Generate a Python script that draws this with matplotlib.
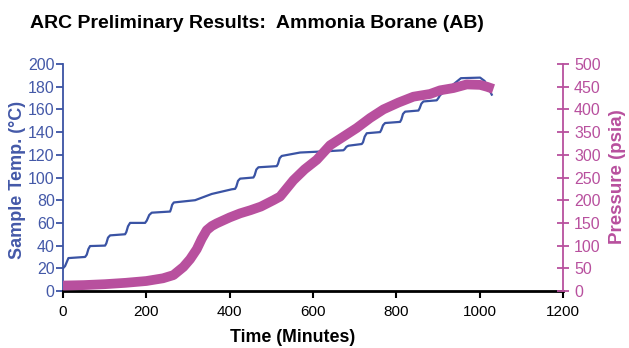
import matplotlib
matplotlib.use("Agg")
import matplotlib.pyplot as plt

plt.rcParams['font.family'] = ['Liberation Sans', 'DejaVu Sans']

# Sample temperature (°C) vs time (minutes)
temp_time = [0, 5, 13, 53, 57, 61, 65, 101, 104, 108, 113, 149, 152, 156, 161,
             197, 201, 207, 213, 257, 259, 262, 266, 317, 357, 405, 413, 416, 420,
             425, 457, 460, 464, 469, 513, 516, 520, 525, 569, 609, 641, 673, 676,
             680, 685, 717, 720, 724, 729, 761, 764, 768, 773, 809, 812, 816, 821,
             853, 856, 860, 865, 897, 901, 905, 930, 955, 1001, 1012, 1022, 1029]
temp_vals = [20, 22, 29, 30, 32, 37, 39.6, 40, 42, 47, 49, 50, 52, 57, 60,
             60, 62, 67, 69, 70, 72, 76, 78, 80, 85.5, 89.6, 90, 92, 97,
             99, 100, 102, 107, 109, 110, 112, 117, 119, 122, 122.7, 123.3, 124, 125,
             127, 128, 129.5, 131, 136, 139, 140, 142, 146, 148, 149, 151, 156, 158,
             159, 161, 165, 167, 168, 170, 172.5, 180, 187.5, 188, 185, 178, 173]

# Pressure (psia) vs time (minutes)
pres_time = [0, 50, 100, 150, 200, 240, 265, 289, 305, 321, 333, 345, 357, 369,
             400, 425, 450, 475, 505, 521, 537, 553, 580, 609, 641, 673, 705, 737,
             769, 805, 841, 881, 905, 937, 969, 1001, 1017, 1033]
pres_vals = [12, 13, 15, 18, 22, 28, 35, 53, 70, 92, 115, 134, 143, 149,
             162, 171, 178, 186, 200, 208, 226, 244, 268, 289, 321, 340, 359, 381,
             400, 415, 428, 434, 442, 447, 455, 454, 450, 445]

x_ticks = [0, 200, 400, 600, 800, 1000, 1200]
temp_ticks = [0, 20, 40, 60, 80, 100, 120, 140, 160, 180, 200]
pres_ticks = [0, 50, 100, 150, 200, 250, 300, 350, 400, 450, 500]

blue = '#3A53A4'
blue_txt = '#4459A8'
pink = '#B8509E'

fig = plt.figure(figsize=(6.29, 3.48), dpi=100)
ax = fig.add_axes([63/629, 1-291/348, 500/629, 227/348])
ax2 = ax.twinx()

ax.plot(temp_time, temp_vals, color=blue, lw=1.6, solid_joinstyle='round')
ax2.plot(pres_time, pres_vals, color=pink, lw=7, solid_capstyle='butt')

ax.set_xlim(0, 1200)
ax.set_ylim(0, 200)
ax2.set_ylim(0, 500)
ax.set_xticks(x_ticks)
ax.set_yticks(temp_ticks)
ax2.set_yticks(pres_ticks)

for a in (ax, ax2):
    a.spines['top'].set_visible(False)
ax.spines['right'].set_visible(False)
ax.spines['left'].set_color(blue)
ax.spines['left'].set_linewidth(1.3)
ax.spines['bottom'].set_color('black')
ax.spines['bottom'].set_linewidth(2.0)
ax2.spines['left'].set_visible(False)
ax2.spines['bottom'].set_visible(False)
ax2.spines['right'].set_color(pink)
ax2.spines['right'].set_linewidth(1.3)

ax.tick_params(axis='x', direction='out', length=5, width=1.5, color='black',
               labelsize=11, labelcolor='black', pad=5)
ax.tick_params(axis='y', direction='out', length=5, width=1.3, color=blue,
               labelsize=11.5, labelcolor=blue_txt, pad=1)
ax2.tick_params(axis='y', direction='inout', length=8, width=1.3, color=pink,
                labelsize=11.5, labelcolor=pink, pad=4)

fig.text(257/629, 1-23/348, 'ARC Preliminary Results:  Ammonia Borane (AB)',
         ha='center', va='center', fontsize=14, fontweight='bold', color='black')
fig.text(18/629, 1-180/348, 'Sample Temp. (°C)', rotation=90, ha='center',
         va='center', fontsize=13, fontweight='bold', color=blue_txt)
fig.text(617/629, 1-177/348, 'Pressure (psia)', rotation=90, ha='center',
         va='center', fontsize=13.5, fontweight='bold', color=pink)
fig.text(293/629, 1-338/348, 'Time (Minutes)', ha='center', va='center',
         fontsize=12.8, fontweight='bold', color='black')

fig.savefig('out.png', dpi=100)
